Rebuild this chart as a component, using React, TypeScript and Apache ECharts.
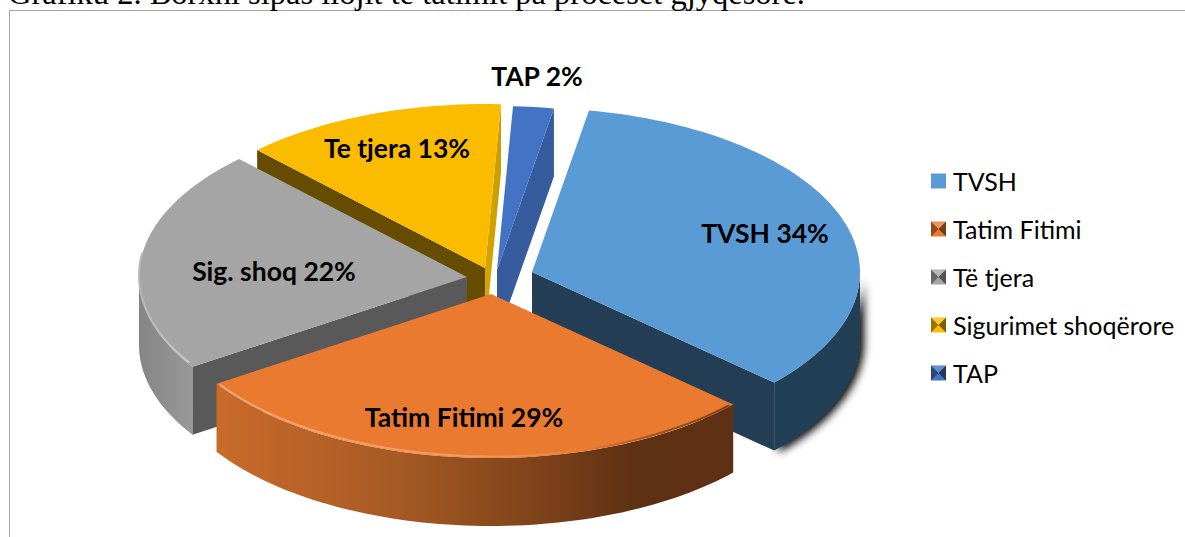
import React, { useEffect, useRef } from "react";
import * as echarts from "echarts";

const legendNames = ["TVSH", "Tatim Fitimi", "Të tjera", "Sigurimet shoqërore", "TAP"];
const labelNames = ["TVSH", "Tatim Fitimi", "Sig. shoq", "Te tjera", "TAP"];
const shares = [34, 29, 22, 13, 2];
const heading = "Grafiku 2. Borxhi sipas llojit të tatimit pa proceset gjyqësore.";

const FONT = "Lato, Carlito, Calibri, sans-serif";
const RX = 328, RY = 164, DEPTH = 68;
const START_DEG = 10;
const apex = [[532, 272], [491, 294], [467, 277], [485, 268], [497, 270]];
const labelPos = [[765, 233], [464, 417], [274, 271], [397, 148], [537, 76]];
const topColors = ["#5b9bd5", "#ea7a2f", "#a5a5a5", "#fbbc00", "#4472c4"];
const cutColors = ["#243f55", "#000", "#595959", "#664c00", "#365c9e"];
const layerZ = [5, 6, 4, 2, 3];

const pt = (i: number, deg: number, dy = 0) => {
  const a = (deg * Math.PI) / 180;
  return [apex[i][0] + RX * Math.sin(a), apex[i][1] - RY * Math.cos(a) + dy];
};
const arc = (i: number, from: number, to: number, dy = 0) => {
  const n = Math.max(2, Math.ceil(Math.abs(to - from) / 1.5));
  const out: number[][] = [];
  for (let k = 0; k <= n; k++) out.push(pt(i, from + ((to - from) * k) / n, dy));
  return out;
};
const grad = (x1: number, x2: number, stops: [number, string][]) =>
  new echarts.graphic.LinearGradient(x1, 0, x2, 0, stops.map(([offset, color]) => ({ offset, color })), true);

function renderSlice(i: number, start: number, end: number) {
  const a = apex[i];
  const children: any[] = [];
  const poly = (points: number[][], style: any) => children.push({ type: "polygon", shape: { points }, style });
  const line = (points: number[][], style: any) =>
    children.push({ type: "polyline", shape: { points }, style: { fill: "none", ...style } });
  const wall = (deg: number) => {
    const t = pt(i, deg);
    return [a, t, [t[0], t[1] + DEPTH], [a[0], a[1] + DEPTH]];
  };
  if (i === 0) {
    const lo = arc(0, 90, end, DEPTH);
    poly([...arc(0, 90, end), ...lo.reverse()], {
      fill: cutColors[0], shadowColor: "#000", shadowBlur: 8, shadowOffsetX: 4, shadowOffsetY: 2,
    });
    poly(wall(end), { fill: cutColors[0] });
  }
  if (i === 1) {
    const lo = arc(1, start, end, DEPTH);
    poly([...arc(1, start, end), ...lo.reverse()], {
      fill: grad(218, 733, [[0, "#c96b2b"], [0.35, "#a65a24"], [0.65, "#7a4019"], [0.8, "#5f3113"], [1, "#5f3013"]]),
    });
  }
  if (i === 2) {
    const lo = arc(2, start, 270, DEPTH);
    poly([...arc(2, start, 270), ...lo.reverse()], {
      fill: grad(139, 191, [[0, "#858585"], [1, "#989898"]]),
    });
    poly(wall(start), { fill: cutColors[2] });
  }
  if (i === 3) {
    poly(wall(end), { fill: grad(484, 500, [[0, "#d8a600"], [1, "#c99c00"]]) });
    poly(wall(start), { fill: cutColors[3] });
  }
  if (i === 4) poly(wall(end), { fill: cutColors[4] });
  poly([a, ...arc(i, start, end)], { fill: topColors[i] });
  if (i === 1) {
    line(arc(1, start + 1, end - 1, -1.5).reverse(), {
      stroke: grad(218, 733, [[0, "#f6a877"], [0.5, "#f29a60"], [0.72, "#ea7a2f"], [0.85, "#9c5222"], [1, "#7a4019"]]),
      lineWidth: 2,
    });
  }
  if (i === 2) {
    line(arc(2, start + 1, 278, -1.5), {
      stroke: grad(139, 191, [[0, "#b8b8b8"], [1, "#c8c8c8"]]),
      lineWidth: 2,
    });
  }
  const pos = labelPos[i];
  children.push({
    type: "text",
    style: {
      text: `${labelNames[i]} ${shares[i]}%`,
      x: pos[0], y: pos[1], align: "center", verticalAlign: "middle",
      fill: "#000", font: `bold 26.5px ${FONT}`,
    },
  });
  return { type: "group", children };
}

const bevel = (x: number, y: number, s: number) => [
  { type: "polygon", silent: true, z: 50, shape: { points: [[x, y], [x + s / 2, y + s / 2], [x, y + s]] }, style: { fill: "rgba(0,0,0,0.38)" } },
  { type: "polygon", silent: true, z: 50, shape: { points: [[x + s, y], [x + s / 2, y + s / 2], [x + s, y + s]] }, style: { fill: "rgba(0,0,0,0.5)" } },
  { type: "polygon", silent: true, z: 50, shape: { points: [[x, y], [x + s, y], [x + s / 2, y + s / 2]] }, style: { fill: "rgba(255,255,255,0.2)" } },
];

export default function App() {
  const ref = useRef<HTMLDivElement>(null);
  useEffect(() => {
    const chart = echarts.init(ref.current!, undefined, { renderer: "svg" });
    const total = shares.reduce((s, v) => s + v, 0);
    let cum = START_DEG;
    const series = shares.map((v, i) => {
      const start = cum;
      const end = cum + (v / total) * 360;
      cum = end;
      return {
        type: "custom",
        name: legendNames[i],
        coordinateSystem: "none",
        z: layerZ[i],
        silent: true,
        itemStyle: { color: topColors[i] },
        data: [[v]],
        renderItem: () => renderSlice(i, start, end),
      };
    });
    chart.setOption({
      animation: false,
      backgroundColor: "#fff",
      legend: {
        orient: "vertical",
        left: 926,
        top: 162,
        itemWidth: 15,
        itemHeight: 15,
        itemGap: 20,
        selectedMode: false,
        icon: "rect",
        data: legendNames,
        textStyle: { fontFamily: FONT, fontSize: 25, color: "#000", padding: [0, 0, 0, 2], height: 28, lineHeight: 28 },
      },
      graphic: [
        { type: "rect", silent: true, shape: { x: 9.5, y: 10.5, width: 1300, height: 700 }, style: { fill: "none", stroke: "#a6a6a6", lineWidth: 1 } },
        { type: "text", silent: true, style: { text: heading, x: 8, y: -24, fill: "#000", font: "32.5px 'Liberation Serif', serif" } },
        ...[1, 2, 3, 4].flatMap((k) => bevel(931, 173.5 + k * 48, 15)),
      ],
      series,
    });
    return () => chart.dispose();
  }, []);
  return <div ref={ref} style={{ position: "fixed", left: 0, top: 0, width: 1185, height: 537 }} />;
}
